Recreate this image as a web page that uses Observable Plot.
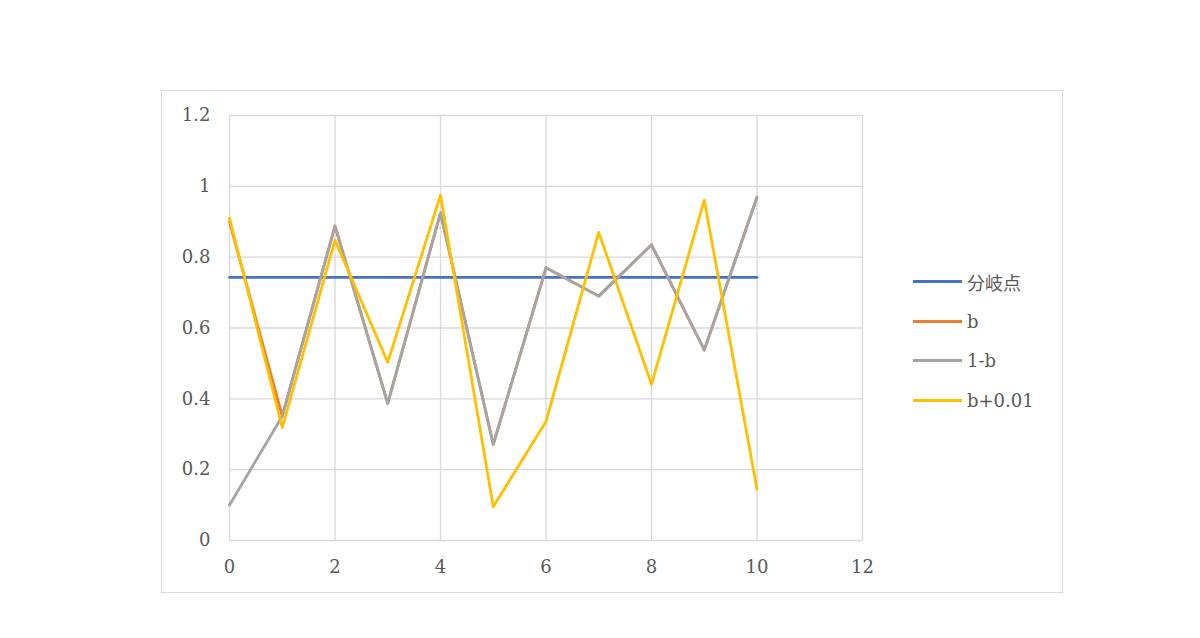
<!DOCTYPE html>
<html><head><meta charset="utf-8">
<script src="https://cdn.jsdelivr.net/npm/d3@7"></script>
<script src="https://cdn.jsdelivr.net/npm/@observablehq/plot@0.6"></script>
<style>
body{margin:0;background:#fff;}
#wrap{position:relative;width:1200px;height:638px;overflow:hidden;}
#frame{position:absolute;left:161px;top:90px;width:902px;height:503px;border:1px solid #d9d9d9;box-sizing:border-box;}
#chart{position:absolute;left:0;top:0;}
#legend{position:absolute;left:913px;top:262px;font-family:"DejaVu Serif","Noto Sans CJK JP",serif;font-size:18px;color:#595959;}
.item{display:flex;align-items:center;height:39.6px;}
.sw{width:49px;height:3px;margin-right:5px;}
.jp{font-family:"Noto Sans CJK JP",sans-serif;}
</style></head>
<body><div id="wrap"><div id="frame"></div><div id="chart"></div><div id="legend"></div></div>
<script>
const steps = [0,1,2,3,4,5,6,7,8,9,10];
const seriesNames = ["分岐点","b","1-b","b+0.01"];
const seriesColors = ["#4472C4","#ED7D31","#A5A5A5","#FFC000"];
const bunki = [0.743,0.743,0.743,0.743,0.743,0.743,0.743,0.743,0.743,0.743,0.743];
const bVals = [0.90,0.351,0.888,0.387,0.925,0.271,0.770,0.690,0.835,0.538,0.969];
const oneMinusB = [0.10,0.351,0.888,0.387,0.925,0.271,0.770,0.690,0.835,0.538,0.969];
const bPlus = [0.91,0.319,0.848,0.503,0.975,0.095,0.336,0.870,0.441,0.961,0.145];
const xTicks = [0,2,4,6,8,10,12];
const yTicks = [0,0.2,0.4,0.6,0.8,1,1.2];

const seriesData = [bunki,bVals,oneMinusB,bPlus];
const rows = [];
seriesNames.forEach((s,i)=>steps.forEach((x,j)=>rows.push({series:s,x,y:seriesData[i][j]})));

const font = "DejaVu Serif, serif";
const chart = Plot.plot({
  width:1200, height:638,
  marginLeft:229, marginRight:338, marginTop:115, marginBottom:98,
  style:{fontFamily:font,fontSize:"18px",color:"#595959",background:"transparent"},
  x:{domain:[0,12],ticks:xTicks,tickSize:0,tickPadding:20,label:null,tickFormat:d=>String(d)},
  y:{domain:[0,1.2],ticks:yTicks,tickSize:0,tickPadding:19,label:null,tickFormat:d=>String(d)},
  color:{domain:seriesNames,range:seriesColors},
  marks:[
    Plot.gridX(xTicks,{stroke:"#d9d9d9",strokeOpacity:1,strokeWidth:1.3}),
    Plot.gridY(yTicks,{stroke:"#d9d9d9",strokeOpacity:1,strokeWidth:1.3}),
    Plot.line(rows,{x:"x",y:"y",z:"series",stroke:"series",strokeWidth:2.8,curve:"linear"})
  ]
});
document.getElementById("chart").appendChild(chart);

const leg = document.getElementById("legend");
seriesNames.forEach((s,i)=>{
  const it=document.createElement("div");it.className="item";
  const sw=document.createElement("div");sw.className="sw";sw.style.background=seriesColors[i];
  const t=document.createElement("span");t.textContent=s;if(i===0)t.className="jp";
  it.appendChild(sw);it.appendChild(t);leg.appendChild(it);
});
</script></body></html>
